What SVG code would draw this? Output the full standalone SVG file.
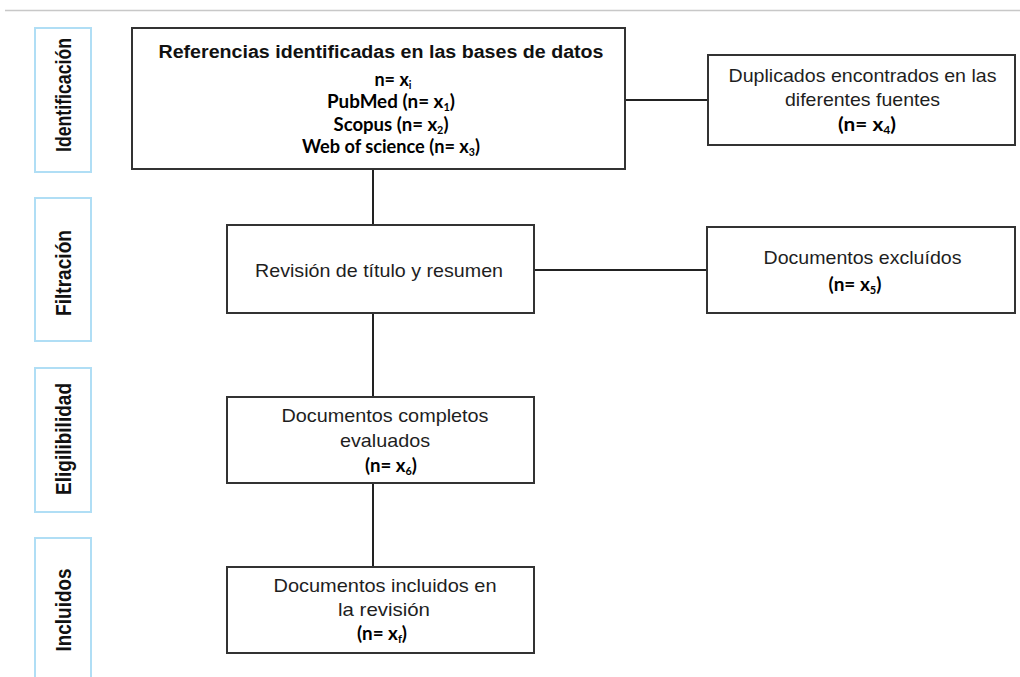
<svg xmlns="http://www.w3.org/2000/svg" width="1020" height="677" viewBox="0 0 1020 677">
<style>
.box{fill:#fff;stroke:#333;stroke-width:2}
.stage{fill:#fff;stroke:#b0def5;stroke-width:2}
.ar{font-family:"Liberation Sans",Arial,sans-serif;font-size:18.5px;fill:#1e1e1e;text-anchor:middle}
.arb{font-family:"Liberation Sans",Arial,sans-serif;font-size:17.5px;font-weight:bold;fill:#111;text-anchor:middle}
.st{font-family:"Liberation Sans",Arial,sans-serif;font-size:19px;font-weight:bold;fill:#111;text-anchor:middle}
.cb{font-family:Lato,"Open Sans",sans-serif;font-size:18px;font-weight:bold;fill:#000;text-anchor:middle}
.sub{font-size:10.5px}
.conn{stroke:#222;stroke-width:2;fill:none}
</style>
<rect width="1020" height="677" fill="#fff"/>
<line x1="5" y1="10.5" x2="1020" y2="10.5" stroke="#c8c8c8" stroke-width="1.5"/>

<g id="stage-identificacion">
<rect class="stage" x="35" y="28" width="56" height="144"/>
<text class="st" transform="translate(71,95) rotate(-90) scale(1,1.17)" textLength="114" lengthAdjust="spacingAndGlyphs">Identificación</text>
</g>
<g id="stage-filtracion">
<rect class="stage" x="35" y="198" width="56" height="143"/>
<text class="st" transform="translate(71,273) rotate(-90) scale(1,1.17)" textLength="86" lengthAdjust="spacingAndGlyphs">Filtración</text>
</g>
<g id="stage-eligibilidad">
<rect class="stage" x="35" y="368" width="56" height="144"/>
<text class="st" transform="translate(71,439) rotate(-90) scale(1,1.17)" textLength="112" lengthAdjust="spacingAndGlyphs">Eligilibilidad</text>
</g>
<g id="stage-incluidos">
<rect class="stage" x="35" y="538" width="56" height="150"/>
<text class="st" transform="translate(71,610) rotate(-90) scale(1,1.17)" textLength="83" lengthAdjust="spacingAndGlyphs">Incluidos</text>
</g>

<g id="connectors">
<line class="conn" x1="373" y1="169" x2="373" y2="225"/>
<line class="conn" x1="373" y1="313" x2="373" y2="397"/>
<line class="conn" x1="373" y1="483" x2="373" y2="567"/>
<line class="conn" x1="625" y1="100" x2="708" y2="100"/>
<line class="conn" x1="534" y1="270" x2="707" y2="270"/>
</g>

<g id="node-referencias">
<rect class="box" x="132" y="28" width="493" height="141"/>
<text class="arb" x="381" y="58" textLength="445" lengthAdjust="spacingAndGlyphs">Referencias identificadas en las bases de datos</text>
<text class="cb" x="393" y="86">n= x<tspan class="sub" dy="3">i</tspan></text>
<text class="cb" x="391" y="108" textLength="128" lengthAdjust="spacingAndGlyphs">PubMed (n= x<tspan class="sub" dy="3">1</tspan><tspan dy="-3">)</tspan></text>
<text class="cb" x="391" y="131" textLength="115" lengthAdjust="spacingAndGlyphs">Scopus (n= x<tspan class="sub" dy="3">2</tspan><tspan dy="-3">)</tspan></text>
<text class="cb" x="391" y="153" textLength="178" lengthAdjust="spacingAndGlyphs">Web of science (n= x<tspan class="sub" dy="3">3</tspan><tspan dy="-3">)</tspan></text>
</g>

<g id="node-duplicados">
<rect class="box" x="708" y="55" width="307" height="90"/>
<text class="ar" x="862.5" y="82" textLength="268" lengthAdjust="spacingAndGlyphs">Duplicados encontrados en las</text>
<text class="ar" x="862.5" y="106" textLength="155" lengthAdjust="spacingAndGlyphs">diferentes fuentes</text>
<text class="cb" x="867" y="131" textLength="58" lengthAdjust="spacingAndGlyphs">(n= x<tspan class="sub" dy="3">4</tspan><tspan dy="-3">)</tspan></text>
</g>

<g id="node-revision">
<rect class="box" x="227" y="225" width="307" height="88"/>
<text class="ar" x="379" y="276.5" textLength="248" lengthAdjust="spacingAndGlyphs">Revisión de título y resumen</text>
</g>

<g id="node-excluidos">
<rect class="box" x="707" y="227" width="308" height="86"/>
<text class="ar" x="862.5" y="264" textLength="198" lengthAdjust="spacingAndGlyphs">Documentos excluídos</text>
<text class="cb" x="855" y="291" textLength="53" lengthAdjust="spacingAndGlyphs">(n= x<tspan class="sub" dy="3">5</tspan><tspan dy="-3">)</tspan></text>
</g>

<g id="node-completos">
<rect class="box" x="227" y="397" width="307" height="86"/>
<text class="ar" x="385" y="422" textLength="207" lengthAdjust="spacingAndGlyphs">Documentos completos</text>
<text class="ar" x="385" y="447" textLength="90" lengthAdjust="spacingAndGlyphs">evaluados</text>
<text class="cb" x="391" y="472" textLength="52" lengthAdjust="spacingAndGlyphs">(n= x<tspan class="sub" dy="3">6</tspan><tspan dy="-3">)</tspan></text>
</g>

<g id="node-incluidos">
<rect class="box" x="227" y="567" width="307" height="86"/>
<text class="ar" x="385" y="591.5" textLength="223" lengthAdjust="spacingAndGlyphs">Documentos incluidos en</text>
<text class="ar" x="384" y="616" textLength="92" lengthAdjust="spacingAndGlyphs">la revisión</text>
<text class="cb" x="382" y="640" textLength="50" lengthAdjust="spacingAndGlyphs">(n= x<tspan class="sub" dy="3">f</tspan><tspan dy="-3">)</tspan></text>
</g>
</svg>
